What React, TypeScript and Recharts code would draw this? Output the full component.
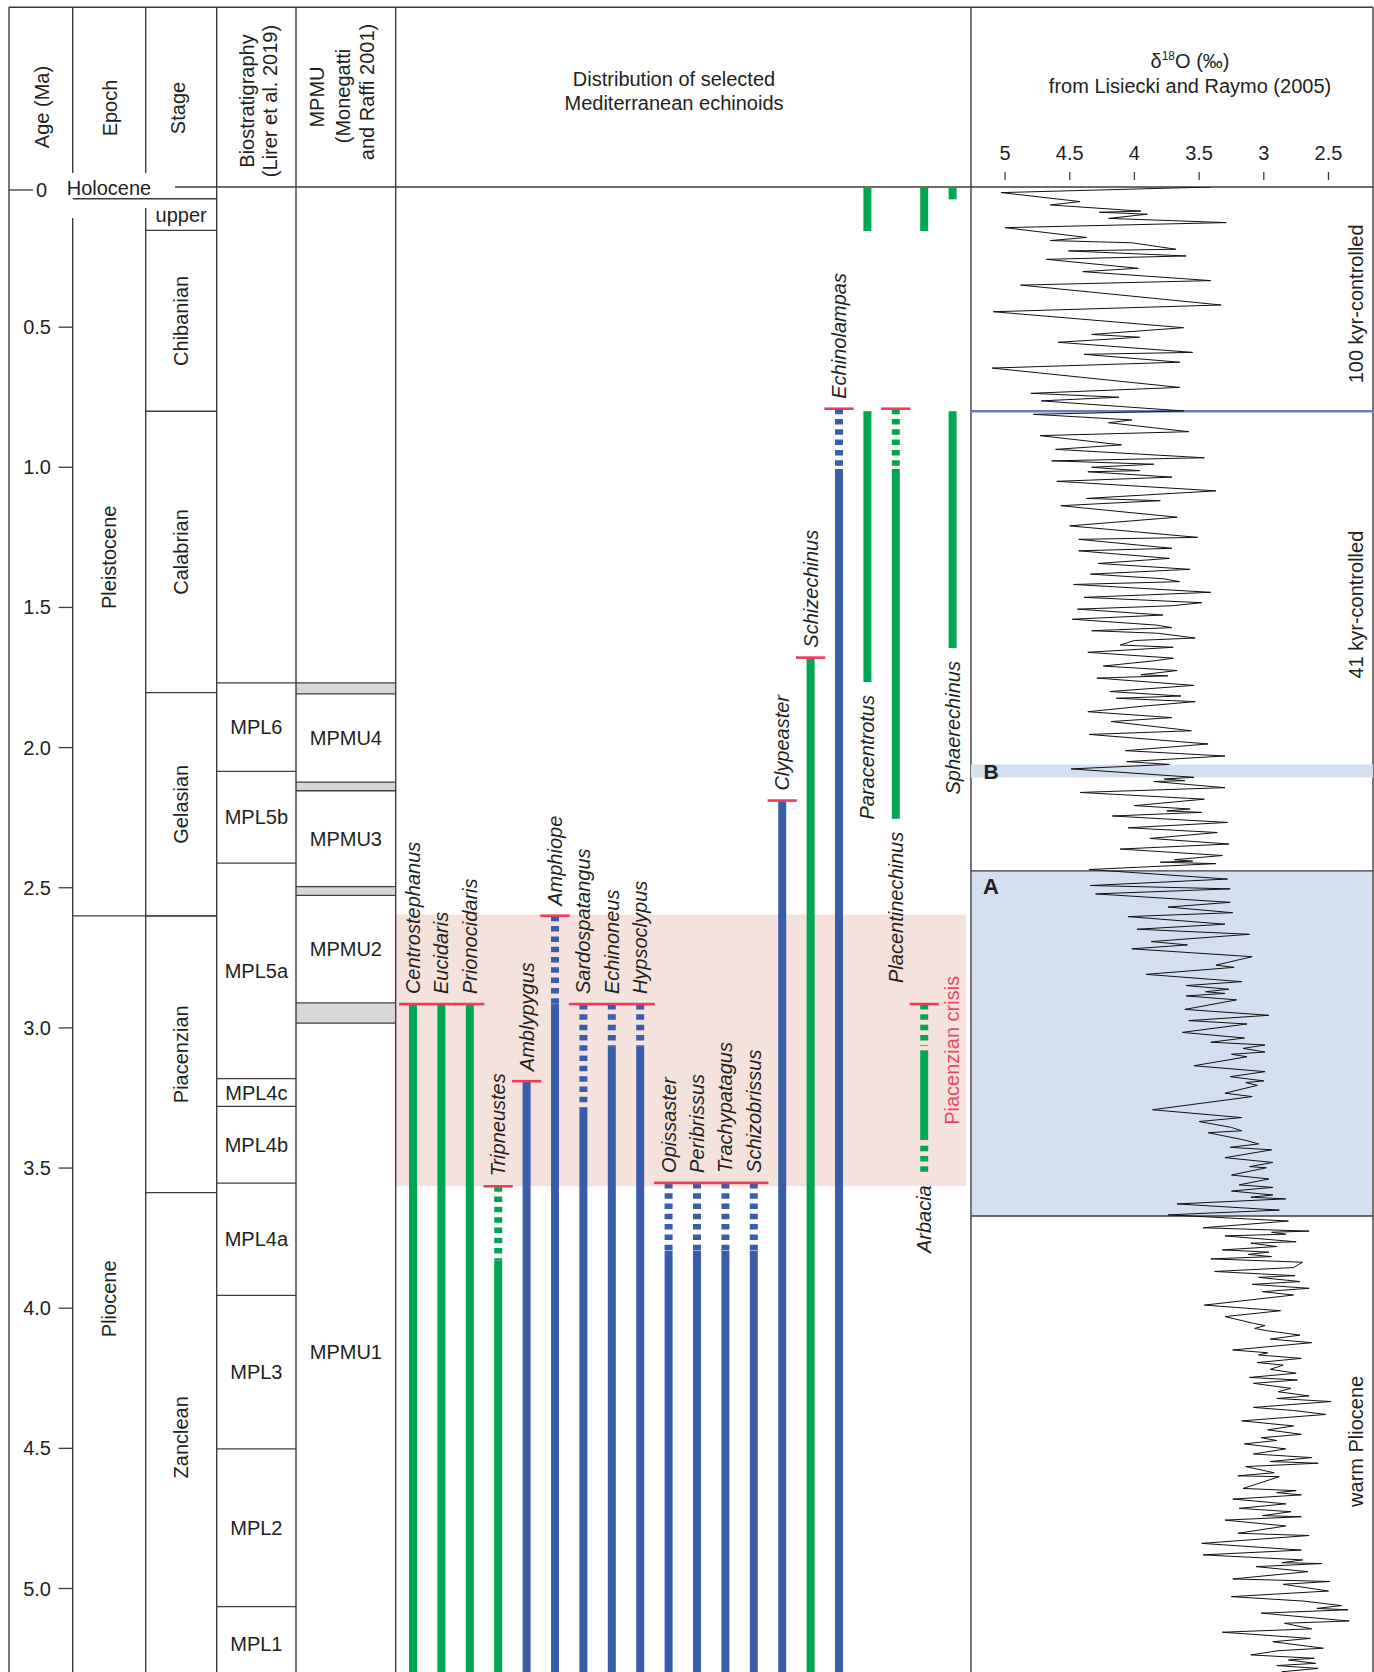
import React from "react";
import { Bar, ComposedChart, Line, ReferenceArea, ReferenceLine, XAxis, YAxis } from "recharts";

const FONT = "'Liberation Sans', Arial, Helvetica, sans-serif";
const INK = "#231f20";
const RULE = "#3d3d3d";
const GREEN = "#00a651";
const BLUE = "#3a5da9";
const RED = "#ee3a5b";
const PINK = "#f6e2dd";
const ICE = "#d4e0f1";

// page geometry (px)
const W = 1374;
const H = 1672;
const TOP = 187; // y of age 0
const PX_PER_MA = 280.3;
const AGE_MAX = (H - TOP) / PX_PER_MA;
const BASE = 5.333; // base of the Zanclean, below the page
const X = { left: 9, epoch: 72.7, stage: 145.7, mpl: 216.7, mpmu: 296, dist: 395.7, iso: 971, right: 1373 };
const PLOT_LEFT = 72;
const TAXA_LEFT = 399.3;
const TAXA_WIDTH = 568;

// ---- stratigraphy ----
const ageTicks = [0, 0.5, 1, 1.5, 2, 2.5, 3, 3.5, 4, 4.5, 5];

const epochs = [
  { name: "Holocene", top: 0, base: 0.042 },
  { name: "Pleistocene", top: 0.042, base: 2.6 },
  { name: "Pliocene", top: 2.6, base: BASE },
];

const stages = [
  { name: "upper", top: 0.042, base: 0.155 },
  { name: "Chibanian", top: 0.155, base: 0.8 },
  { name: "Calabrian", top: 0.8, base: 1.804 },
  { name: "Gelasian", top: 1.804, base: 2.6 },
  { name: "Piacenzian", top: 2.6, base: 3.588 },
  { name: "Zanclean", top: 3.588, base: BASE },
];

const mplZones = [
  { name: "MPL6", top: 1.769, base: 2.085 },
  { name: "MPL5b", top: 2.085, base: 2.412 },
  { name: "MPL5a", top: 2.412, base: 3.181 },
  { name: "MPL4c", top: 3.181, base: 3.28 },
  { name: "MPL4b", top: 3.28, base: 3.554 },
  { name: "MPL4a", top: 3.554, base: 3.954 },
  { name: "MPL3", top: 3.954, base: 4.502 },
  { name: "MPL2", top: 4.502, base: 5.065 },
  { name: "MPL1", top: 5.065, base: BASE },
];

const mpmuUnits = [
  { name: "MPMU4", top: 1.808, base: 2.123 },
  { name: "MPMU3", top: 2.154, base: 2.496 },
  { name: "MPMU2", top: 2.527, base: 2.911 },
  { name: "MPMU1", top: 2.983, base: BASE },
];
const mpmuGaps = [
  [1.769, 1.808],
  [2.123, 2.154],
  [2.496, 2.527],
  [2.911, 2.983],
];

const crisis = [2.595, 3.565];

// ---- echinoids ----
const taxa = [
  "Centrostephanus", "Eucidaris", "Prionocidaris", "Tripneustes", "Amblypygus",
  "Amphiope", "Sardospatangus", "Echinoneus", "Hypsoclypus", "Opissaster",
  "Peribrissus", "Trachypatagus", "Schizobrissus", "Clypeaster", "Schizechinus",
  "Echinolampas", "Paracentrotus", "Placentinechinus", "Arbacia", "Sphaerechinus",
];
const regular = [true, true, true, true, false, false, false, false, false, false, false, false, false, false, true, false, true, true, true, true];
const firstTick = [2.915, 2.915, 2.915, 3.565, 3.19, 2.6, 2.915, 2.915, 2.915, 3.553, 3.553, 3.553, 3.553, 2.189, 1.679, 0.791, null, 0.791, 2.915, null];
const dashedRange = [
  null, null, null, [3.565, 3.83], null, [2.6, 2.915], [2.915, 3.285], [2.915, 3.065], [2.915, 3.065], [3.553, 3.795],
  [3.553, 3.795], [3.553, 3.795], [3.553, 3.795], null, null, [0.791, 1.006], null, [0.791, 1.006], [2.915, 3.065], null,
];
const solidRange = [
  [2.915, BASE], [2.915, BASE], [2.915, BASE], [3.83, BASE], [3.19, BASE], [2.915, BASE], [3.285, BASE], [3.065, BASE], [3.065, BASE], [3.795, BASE],
  [3.795, BASE], [3.795, BASE], [3.795, BASE], [2.189, BASE], [1.679, BASE], [1.006, BASE], [0.8, 1.766], [1.006, 2.254], [3.08, 3.4], [0.8, 1.645],
];
const lowerDashed = [null, null, null, null, null, null, null, null, null, null, null, null, null, null, null, null, null, null, [3.42, 3.515], null];
const recentRange = [null, null, null, null, null, null, null, null, null, null, null, null, null, null, null, null, [0.003, 0.157], null, [0.003, 0.157], [0.003, 0.044]];
const labelBelow = [false, false, false, false, false, false, false, false, false, false, false, false, false, false, false, false, true, true, true, true];

// ---- delta 18O (LR04), [age Ma, permil] ----
const isoLate: [number, number][] = [
  [0.0, 3.41], [0.02, 5.03], [0.052, 4.42], [0.064, 4.65], [0.086, 3.95], [0.09, 4.27], [0.097, 3.9], [0.112, 4.2], [0.127, 3.29], [0.145, 5.0],
  [0.18, 4.37], [0.191, 4.65], [0.199, 4.02], [0.222, 3.68], [0.228, 4.51], [0.246, 3.6], [0.258, 4.68], [0.29, 3.97], [0.302, 4.4], [0.334, 3.41],
  [0.35, 4.88], [0.421, 3.33], [0.445, 5.09], [0.502, 3.62], [0.526, 4.33], [0.536, 3.96], [0.554, 4.59], [0.59, 3.55], [0.597, 4.39], [0.625, 3.65],
  [0.646, 5.1], [0.715, 3.65], [0.736, 4.8], [0.75, 4.12], [0.763, 4.72], [0.799, 3.62],
];
const isoEarly: [number, number][] = [
  [0.811, 4.78], [0.831, 4.02], [0.841, 4.2], [0.873, 3.58], [0.887, 4.73], [0.92, 4.1], [0.936, 4.61], [0.966, 3.46], [0.977, 4.64], [0.989, 3.85],
  [1.0, 4.33], [1.012, 3.96], [1.016, 4.36], [1.035, 3.71], [1.05, 4.6], [1.084, 3.37], [1.111, 4.37], [1.119, 3.8], [1.137, 4.57], [1.178, 3.67],
  [1.209, 4.5], [1.25, 3.51], [1.257, 4.43], [1.289, 3.71], [1.298, 4.43], [1.325, 3.73], [1.343, 4.28], [1.364, 3.57], [1.381, 4.34], [1.398, 3.77],
  [1.408, 3.65], [1.418, 4.47], [1.446, 3.41], [1.464, 4.39], [1.483, 3.48], [1.494, 3.71], [1.506, 4.44], [1.527, 3.78], [1.542, 4.48], [1.563, 3.83],
  [1.572, 3.71], [1.583, 4.33], [1.592, 3.82], [1.609, 3.53], [1.618, 4.0], [1.634, 4.11], [1.642, 3.7], [1.66, 4.36], [1.681, 3.7], [1.69, 3.84],
  [1.709, 4.24], [1.725, 3.67], [1.74, 3.95], [1.744, 3.74], [1.752, 4.29], [1.778, 3.54], [1.8, 4.19], [1.816, 3.64], [1.824, 4.14], [1.836, 3.53],
  [1.852, 3.93], [1.872, 4.36], [1.893, 3.71], [1.907, 4.18], [1.94, 3.56], [1.953, 4.35], [1.987, 3.43], [2.011, 4.07], [2.03, 3.3], [2.05, 4.06],
  [2.06, 3.73], [2.076, 4.49], [2.106, 3.54], [2.112, 3.77], [2.118, 3.61], [2.121, 3.85], [2.143, 3.3], [2.16, 4.42], [2.184, 3.46], [2.207, 4.0],
  [2.219, 3.57], [2.226, 3.75], [2.231, 3.48], [2.244, 4.17], [2.267, 3.28], [2.286, 4.05], [2.303, 3.36], [2.324, 3.88], [2.344, 3.27], [2.362, 4.11],
  [2.385, 3.32], [2.4, 3.69], [2.405, 3.55], [2.409, 3.8], [2.414, 3.37], [2.435, 4.35], [2.469, 3.28], [2.492, 4.34], [2.504, 3.26], [2.522, 4.3],
  [2.552, 3.26], [2.569, 3.74], [2.589, 3.24],
];
const isoPliocene: [number, number][] = [
  [2.603, 4.05], [2.63, 3.3], [2.648, 3.98], [2.666, 3.11], [2.692, 3.87], [2.704, 3.59], [2.718, 4.02], [2.746, 3.09], [2.776, 3.37], [2.784, 3.23],
  [2.809, 3.91], [2.835, 3.17], [2.849, 3.6], [2.862, 3.27], [2.871, 3.45], [2.877, 3.3], [2.886, 3.6], [2.9, 3.21], [2.934, 3.61], [2.955, 2.96],
  [2.974, 3.58], [2.986, 3.13], [3.016, 3.63], [3.036, 3.15], [3.051, 3.41], [3.061, 2.99], [3.073, 3.16], [3.086, 2.99], [3.094, 3.25], [3.103, 3.13],
  [3.135, 3.54], [3.156, 2.99], [3.174, 3.26], [3.189, 3.0], [3.195, 3.14], [3.205, 3.05], [3.233, 3.3], [3.245, 3.09], [3.292, 3.86], [3.32, 3.17],
  [3.334, 3.5], [3.355, 3.25], [3.367, 3.17], [3.374, 3.43], [3.4, 3.15], [3.414, 3.04], [3.426, 3.26], [3.435, 2.94], [3.453, 3.17], [3.463, 3.3],
  [3.48, 2.93], [3.495, 3.11], [3.499, 2.98], [3.525, 3.25], [3.539, 2.96], [3.56, 3.19], [3.569, 2.93], [3.582, 3.25], [3.596, 2.93], [3.604, 3.1],
  [3.61, 2.83], [3.628, 3.67], [3.65, 2.88], [3.667, 3.74], [3.689, 2.81], [3.713, 3.47], [3.725, 2.65], [3.729, 2.94], [3.736, 2.83], [3.742, 3.3],
  [3.763, 2.75], [3.768, 3.1], [3.78, 2.9], [3.792, 3.32], [3.8, 2.96], [3.808, 3.12], [3.816, 2.94], [3.824, 3.41], [3.836, 2.7], [3.855, 2.77],
  [3.869, 3.38], [3.884, 2.76], [3.89, 3.04], [3.905, 2.72], [3.915, 3.09], [3.929, 2.65], [3.941, 3.01], [3.953, 2.77], [3.989, 3.46], [4.009, 2.87],
  [4.03, 3.3], [4.054, 3.08], [4.062, 2.99], [4.072, 3.07], [4.08, 2.98], [4.096, 2.72], [4.11, 2.95], [4.123, 2.63], [4.149, 3.24], [4.159, 2.97],
  [4.167, 3.04], [4.179, 2.71], [4.194, 3.05], [4.203, 2.85], [4.218, 2.95], [4.232, 2.75], [4.247, 3.11], [4.256, 2.74], [4.268, 3.08], [4.286, 2.79],
  [4.298, 2.89], [4.313, 2.65], [4.322, 2.9], [4.333, 2.48], [4.354, 3.08], [4.365, 2.77], [4.379, 2.52], [4.402, 3.17], [4.42, 2.77], [4.434, 2.97],
  [4.45, 2.71], [4.462, 3.02], [4.472, 2.9], [4.484, 3.15], [4.502, 2.83], [4.52, 3.08], [4.533, 2.63], [4.547, 2.95], [4.553, 2.58], [4.565, 3.14],
  [4.587, 2.92], [4.598, 3.2], [4.601, 2.88], [4.643, 3.16], [4.651, 2.75], [4.658, 2.9], [4.666, 2.71], [4.681, 3.24], [4.698, 2.83], [4.714, 3.19],
  [4.726, 2.79], [4.74, 3.01], [4.744, 2.71], [4.756, 3.3], [4.777, 2.83], [4.803, 3.2], [4.811, 2.65], [4.839, 3.48], [4.863, 2.71], [4.88, 3.47],
  [4.898, 2.7], [4.908, 2.86], [4.911, 2.55], [4.922, 3.06], [4.94, 2.66], [4.966, 3.24], [4.975, 2.49], [4.985, 2.85], [5.009, 2.5], [5.029, 3.25],
  [5.045, 2.69], [5.061, 2.4], [5.071, 2.59], [5.076, 2.35], [5.088, 3.02], [5.116, 2.34], [5.124, 2.84], [5.144, 2.63], [5.156, 3.32], [5.178, 2.64],
  [5.19, 2.93], [5.213, 2.54], [5.222, 2.89], [5.237, 3.1], [5.249, 2.61], [5.255, 2.81], [5.267, 2.6], [5.275, 2.9], [5.285, 2.58], [5.297, 2.86],
  [5.31, 2.75],
];
const isoTicks = [5, 4.5, 4, 3.5, 3, 2.5];
const ISO_DOMAIN = [2.156, 5.263];
const eventA = [2.44, 3.671];
const eventB = [2.06, 2.107];
const mptAge = 0.8;
const regimeLabels = [
  { text: "100 kyr-controlled", age: 0.417 },
  { text: "41 kyr-controlled", age: 1.49 },
  { text: "warm Pliocene", age: 4.475 },
];

const isoData = [...isoLate, ...isoEarly, ...isoPliocene].map(([age, d18o]) => ({ age, d18o }));

const rows = taxa.map((name, i) => {
  const solid = solidRange[i];
  const lower = lowerDashed[i];
  const below = labelBelow[i];
  return {
    name,
    colour: regular[i] ? GREEN : BLUE,
    tick: firstTick[i],
    dashed: dashedRange[i],
    solid,
    lower,
    recent: recentRange[i],
    below,
    labelAt: below ? (lower ? lower[1] : solid[1]) : (firstTick[i] ?? solid[0]),
  };
});

// ---------- shared bits ----------
const textProps = { fill: INK, fontSize: 20, fontFamily: FONT };

function centerLabel(text: string, rotated: boolean) {
  return (p: any) => {
    const vb = p.viewBox || {};
    const cx = vb.x + vb.width / 2;
    const cy = vb.y + vb.height / 2;
    return (
      <text x={cx} y={cy} textAnchor="middle" dominantBaseline="central" transform={rotated ? `rotate(-90 ${cx} ${cy})` : undefined} {...textProps}>
        {text}
      </text>
    );
  };
}

function AgeTick(p: any) {
  const v = p.payload.value;
  const y = p.y;
  if (v === 0) {
    return (
      <g>
        <line x1={X.left} x2={33} y1={y + 3} y2={y + 3} stroke={RULE} strokeWidth={1.3} />
        <text x={47} y={y + 3} textAnchor="end" dominantBaseline="central" {...textProps}>0</text>
      </g>
    );
  }
  return (
    <g>
      <line x1={58.6} x2={X.epoch} y1={y} y2={y} stroke={RULE} strokeWidth={1.3} />
      <text x={51} y={y} textAnchor="end" dominantBaseline="central" {...textProps}>{v.toFixed(1)}</text>
    </g>
  );
}

function IsoTick(p: any) {
  return (
    <g>
      <text x={p.x} y={160} textAnchor="middle" {...textProps}>{String(p.payload.value)}</text>
      <line x1={p.x} x2={p.x} y1={172} y2={180} stroke={RULE} strokeWidth={1.3} />
    </g>
  );
}

function seg(age: number, x1: number, x2: number, key: string) {
  return <ReferenceLine key={key} segment={[{ x: x1, y: age }, { x: x2, y: age }]} stroke={RULE} strokeWidth={1.3} ifOverflow="visible" />;
}

// ---------- stratigraphic columns ----------
function StratChart() {
  return (
    <ComposedChart width={W} height={H} data={stages} margin={{ top: TOP, right: W - X.right, bottom: 0, left: 0 }}>
      <XAxis type="number" dataKey="top" domain={[PLOT_LEFT, X.right]} allowDataOverflow hide />
      <YAxis
        type="number"
        domain={[0, AGE_MAX]}
        reversed
        allowDataOverflow
        ticks={ageTicks}
        interval={0}
        width={PLOT_LEFT}
        tickLine={false}
        axisLine={false}
        tick={AgeTick}
      />
      <ReferenceArea
        x1={396.5}
        x2={966}
        y1={crisis[0]}
        y2={crisis[1]}
        fill={PINK}
        fillOpacity={1}
        stroke="none"
        ifOverflow="visible"
        label={(p: any) => {
          const vb = p.viewBox || {};
          const cx = vb.x + vb.width - 14;
          const cy = vb.y + vb.height / 2;
          return (
            <text x={cx} y={cy} textAnchor="middle" dominantBaseline="central" transform={`rotate(-90 ${cx} ${cy})`} {...textProps} fill="#e9476a">
              Piacenzian crisis
            </text>
          );
        }}
      />
      {epochs.map((e) => (
        <ReferenceArea
          key={e.name}
          x1={X.epoch}
          x2={X.stage}
          y1={e.top}
          y2={e.base}
          fill="none"
          stroke="none"
          ifOverflow="visible"
          label={
            e.name === "Holocene"
              ? () => (
                  <text x={X.epoch - 6} y={TOP + 8} {...textProps}>
                    {e.name}
                  </text>
                )
              : centerLabel(e.name, true)
          }
        />
      ))}
      {epochs.filter((e) => e.base < AGE_MAX).map((e) => seg(e.base, X.epoch, X.mpl, "eb" + e.name))}
      {stages.map((s) => (
        <ReferenceArea key={s.name} x1={X.stage} x2={X.mpl} y1={s.top} y2={s.base} fill="none" stroke="none" ifOverflow="visible" label={centerLabel(s.name, s.name !== "upper")} />
      ))}
      {stages.filter((s) => s.base < AGE_MAX).map((s) => seg(s.base, X.stage, X.mpl, "sb" + s.name))}
      {mplZones.map((z) => (
        <ReferenceArea key={z.name} x1={X.mpl} x2={X.mpmu} y1={z.top} y2={z.base} fill="none" stroke="none" ifOverflow="visible" label={centerLabel(z.name, false)} />
      ))}
      {mplZones.map((z) => seg(z.top, X.mpl, X.mpmu, "mt" + z.name))}
      {mpmuGaps.map((g, i) => (
        <ReferenceArea key={"gap" + i} x1={X.mpmu} x2={X.dist} y1={g[0]} y2={g[1]} fill="#d7d7d7" fillOpacity={1} stroke="none" ifOverflow="visible" />
      ))}
      {mpmuGaps.map((g, i) => seg(g[0], X.mpmu, X.dist, "gt" + i))}
      {mpmuGaps.map((g, i) => seg(g[1], X.mpmu, X.dist, "gb" + i))}
      {mpmuUnits.map((u) => (
        <ReferenceArea key={u.name} x1={X.mpmu} x2={X.dist} y1={u.top} y2={u.base} fill="none" stroke="none" ifOverflow="visible" label={centerLabel(u.name, false)} />
      ))}
    </ComposedChart>
  );
}

// ---------- frame & headers ----------
function Frame() {
  const rule = { stroke: RULE, strokeWidth: 1.4 };
  const v = (x: number, y1: number, y2: number) => <line x1={x} x2={x} y1={y1} y2={y2} {...rule} />;
  const rot = (x: number, y: number, s: string, size = 20) => (
    <text x={x} y={y} textAnchor="middle" dominantBaseline="central" transform={`rotate(-90 ${x} ${y})`} {...textProps} fontSize={size}>
      {s}
    </text>
  );
  return (
    <svg width={W} height={H} style={{ position: "absolute", left: 0, top: 0 }}>
      <line x1={X.left} x2={X.right} y1={7.3} y2={7.3} {...rule} />
      {v(X.left, 7.3, H)}
      {v(X.right, 7.3, H)}
      {v(X.epoch, 7.3, 173)}
      {v(X.epoch, 218, H)}
      {v(X.stage, 7.3, 173)}
      {v(X.stage, 208, H)}
      {v(X.mpl, 7.3, H)}
      {v(X.mpmu, 7.3, H)}
      {v(X.dist, 7.3, H)}
      {v(X.iso, 7.3, H)}
      <line x1={175} x2={X.right} y1={TOP} y2={TOP} {...rule} />
      {rot(41.7, 107, "Age (Ma)")}
      {rot(110, 108, "Epoch")}
      {rot(178, 108, "Stage")}
      {rot(247, 101, "Biostratigraphy")}
      {rot(270, 101, "(Lirer et al. 2019)")}
      {rot(317, 97, "MPMU")}
      {rot(343, 96, "(Monegatti")}
      {rot(367, 92, "and Raffi 2001)")}
      <text x={674} y={86} textAnchor="middle" {...textProps}>Distribution of selected</text>
      <text x={674} y={109.5} textAnchor="middle" {...textProps}>Mediterranean echinoids</text>
      <text x={1190} y={68} textAnchor="middle" {...textProps}>
        δ<tspan fontSize={12} dy={-8}>18</tspan>
        <tspan dy={8}>O (‰)</tspan>
      </text>
      <text x={1190} y={93} textAnchor="middle" {...textProps}>from Lisiecki and Raymo (2005)</text>
    </svg>
  );
}

// ---------- echinoid ranges ----------
function spanOf(p: any) {
  const y0 = Math.min(p.y, p.y + p.height);
  return [y0, Math.abs(p.height)];
}
function solidShape(key: string) {
  return (p: any) => {
    if (!p.payload || !p.payload[key]) return <g />;
    const [y0, h] = spanOf(p);
    return <rect x={p.x} y={y0} width={p.width} height={h} fill={p.payload.colour} />;
  };
}
function dashShape(key: string) {
  return (p: any) => {
    if (!p.payload || !p.payload[key]) return <g />;
    const [y0, h] = spanOf(p);
    const cx = p.x + p.width / 2;
    return <line x1={cx} x2={cx} y1={y0} y2={y0 + h} stroke={p.payload.colour} strokeWidth={p.width} strokeDasharray="5.5 4.8" />;
  };
}
function tickShape(p: any) {
  if (!p.payload || p.payload.tick == null) return <g />;
  const y = p.y + p.height / 2;
  return <line x1={p.x - 10.6} x2={p.x + p.width + 10.6} y1={y} y2={y} stroke={RED} strokeWidth={2.6} />;
}
function nameShape(p: any) {
  const d = p.payload;
  if (!d) return <g />;
  const cx = p.x + p.width / 2;
  const ly = d.below ? p.y + 13 : p.y - 10;
  return (
    <text x={cx} y={ly} textAnchor={d.below ? "end" : "start"} dominantBaseline="central" transform={`rotate(-90 ${cx} ${ly})`} fontStyle="italic" {...textProps}>
      {d.name}
    </text>
  );
}

function EchinoidChart() {
  const ids = ["recent", "solid", "dashed", "lower", "tick", "name"];
  return (
    <ComposedChart width={TAXA_WIDTH} height={H - TOP} data={rows} margin={{ top: 0, right: 0, bottom: 0, left: 0 }} barGap={0} style={{ overflow: "visible" }}>
      {ids.map((id) => (
        <XAxis key={id} xAxisId={id} dataKey="name" type="category" hide />
      ))}
      <YAxis type="number" domain={[0, AGE_MAX]} reversed allowDataOverflow hide />
      <Bar xAxisId="recent" dataKey={(d: any) => d.recent} barSize={8} shape={solidShape("recent")} isAnimationActive={false} />
      <Bar xAxisId="solid" dataKey={(d: any) => d.solid} barSize={8} shape={solidShape("solid")} isAnimationActive={false} />
      <Bar xAxisId="dashed" dataKey={(d: any) => d.dashed} barSize={8} shape={dashShape("dashed")} isAnimationActive={false} />
      <Bar xAxisId="lower" dataKey={(d: any) => d.lower} barSize={8} shape={dashShape("lower")} isAnimationActive={false} />
      <Bar xAxisId="tick" dataKey={(d: any) => (d.tick == null ? null : [d.tick, d.tick])} barSize={8} shape={tickShape} isAnimationActive={false} />
      <Bar xAxisId="name" dataKey={(d: any) => [d.labelAt, d.labelAt]} barSize={8} shape={nameShape} isAnimationActive={false} />
    </ComposedChart>
  );
}

// ---------- oxygen isotope curve ----------
function IsotopeChart() {
  const width = X.right - X.iso;
  return (
    <ComposedChart layout="vertical" width={width} height={H} data={isoData} margin={{ top: TOP - 40, right: 0, bottom: 0, left: 0 }}>
      <XAxis
        type="number"
        orientation="top"
        height={40}
        domain={ISO_DOMAIN}
        reversed
        allowDataOverflow
        ticks={isoTicks}
        interval={0}
        tick={IsoTick}
        tickLine={false}
        axisLine={false}
      />
      <YAxis type="number" dataKey="age" domain={[0, AGE_MAX]} allowDataOverflow hide />
      <ReferenceArea
        y1={eventA[0]}
        y2={eventA[1]}
        fill={ICE}
        fillOpacity={1}
        stroke={RULE}
        strokeWidth={1.3}
        label={(p: any) => (
          <text x={(p.viewBox?.x ?? 0) + 20} y={Math.min(p.viewBox?.y ?? 0, (p.viewBox?.y ?? 0) + (p.viewBox?.height ?? 0)) + 16} textAnchor="middle" dominantBaseline="central" {...textProps} fontSize={22} fontWeight="bold">
            A
          </text>
        )}
      />
      <ReferenceArea
        y1={eventB[0]}
        y2={eventB[1]}
        fill={ICE}
        fillOpacity={1}
        stroke="none"
        label={(p: any) => (
          <text x={(p.viewBox?.x ?? 0) + 20} y={(p.viewBox?.y ?? 0) + (p.viewBox?.height ?? 0) / 2} textAnchor="middle" dominantBaseline="central" {...textProps} fontSize={21} fontWeight="bold">
            B
          </text>
        )}
      />
      <ReferenceLine y={mptAge} stroke="#6b7ec2" strokeWidth={2.5} />
      {regimeLabels.map((r) => (
        <ReferenceLine
          key={r.text}
          y={r.age}
          stroke="none"
          strokeOpacity={0}
          label={(p: any) => {
            const vb = p.viewBox || {};
            const cx = vb.x + vb.width - 17;
            const cy = vb.y;
            return (
              <text x={cx} y={cy} textAnchor="middle" dominantBaseline="central" transform={`rotate(-90 ${cx} ${cy})`} {...textProps}>
                {r.text}
              </text>
            );
          }}
        />
      ))}
      <Line dataKey="d18o" type="linear" stroke="#111" strokeWidth={1} dot={false} isAnimationActive={false} />
    </ComposedChart>
  );
}

export default function App() {
  return (
    <div style={{ position: "absolute", left: 0, top: 0, width: W, height: H, background: "#fff", fontFamily: FONT, overflow: "hidden" }}>
      <div style={{ position: "absolute", left: 0, top: 0 }}>
        <StratChart />
      </div>
      <Frame />
      <div style={{ position: "absolute", left: TAXA_LEFT, top: TOP }}>
        <EchinoidChart />
      </div>
      <div style={{ position: "absolute", left: X.iso, top: 0 }}>
        <IsotopeChart />
      </div>
    </div>
  );
}
